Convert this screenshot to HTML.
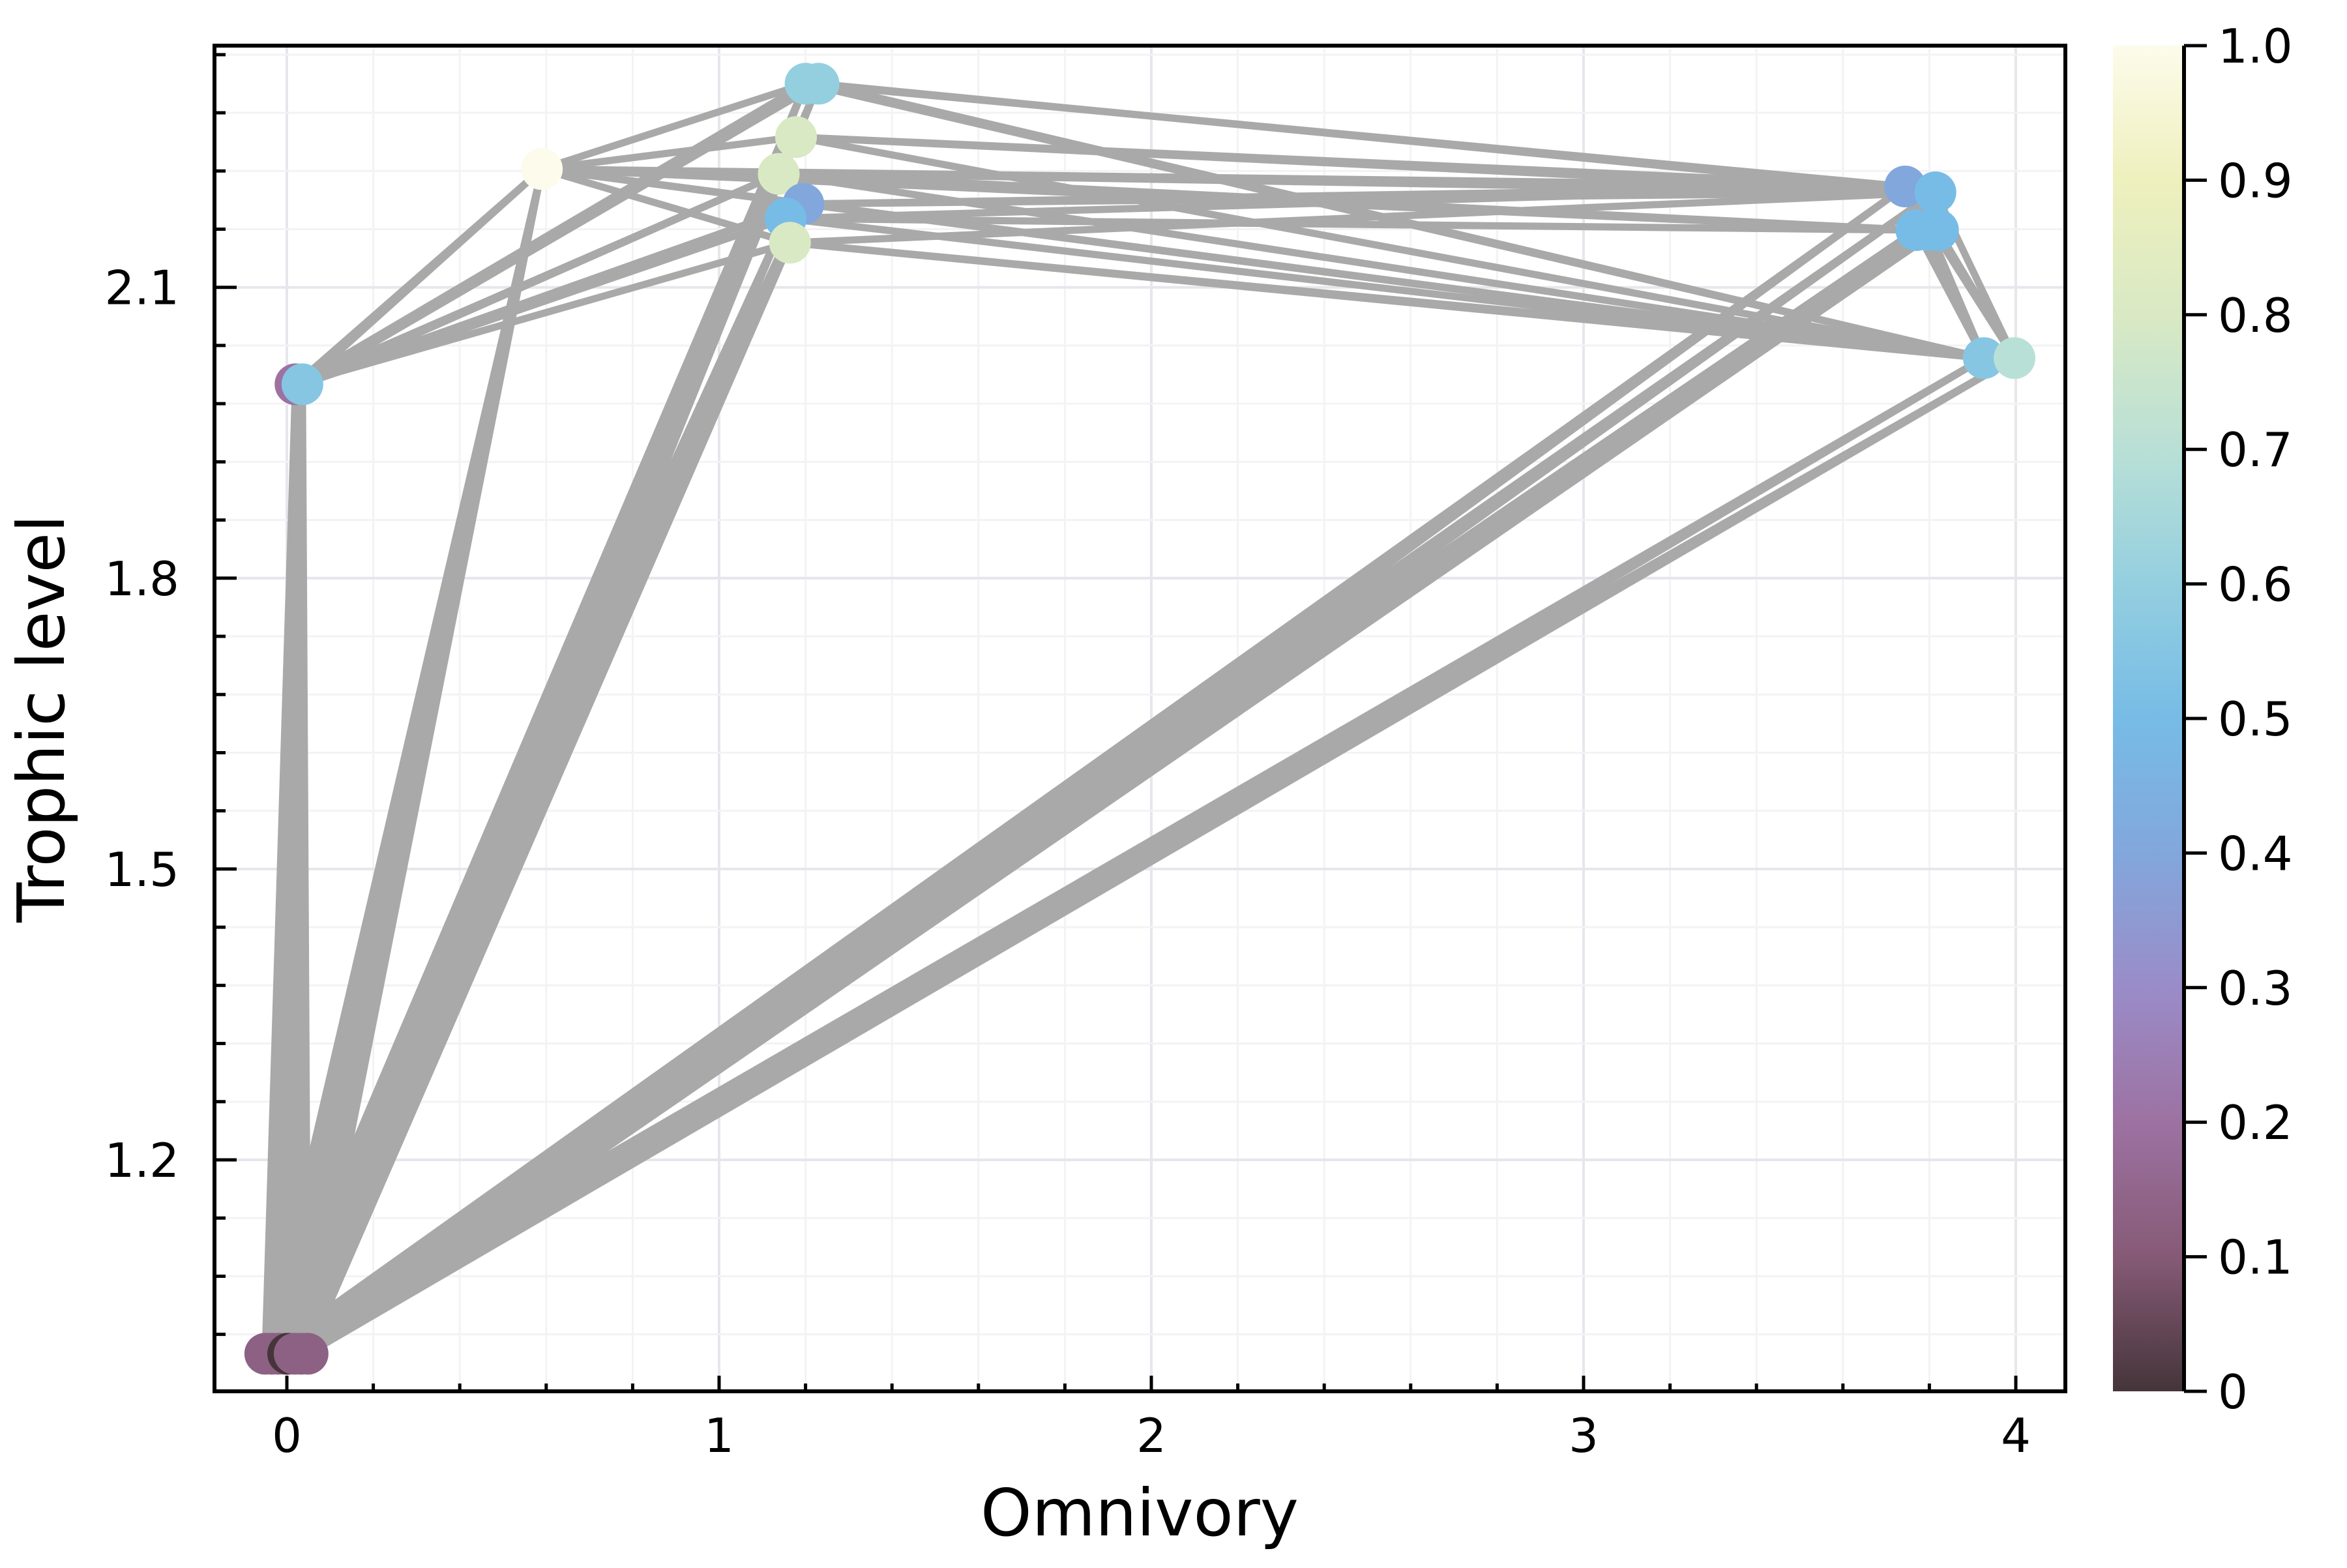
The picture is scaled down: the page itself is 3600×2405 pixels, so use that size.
<!DOCTYPE html>
<html><head><meta charset="utf-8"><style>
html,body{margin:0;padding:0;background:#fff;}
svg text{font-family:"DejaVu Sans","Liberation Sans",sans-serif;fill:#000;}
</style></head><body>
<svg id="chart" xmlns="http://www.w3.org/2000/svg" width="3600" height="2400" viewBox="0 0 3600 2400">
<rect width="3600" height="2400" fill="#fff"/>
<defs>
<linearGradient id="cbgrad" x1="0" y1="1" x2="0" y2="0"></linearGradient>
<clipPath id="plotclip"><rect x="329" y="70" width="2839" height="2064"/></clipPath>
</defs>
<g id="grid"></g>
<g id="edges" clip-path="url(#plotclip)"></g>
<g id="nodes"></g>
<g id="axes"></g>
<g id="colorbar"></g>
<text x="1748" y="2355" font-size="100" text-anchor="middle">Omnivory</text>
<text x="0" y="0" font-size="100" text-anchor="middle" transform="translate(98,1102) rotate(-90)">Trophic level</text>
</svg>
<script>
// ---- data ----
const nodeX = [-0.05,-0.035,-0.02,-0.005,0.003,0.018,0.033,0.048, 0.02,0.036, 0.59, 1.20,1.23, 1.178,1.138,1.195,1.154,1.164, 3.744,3.814,3.77,3.80,3.82, 3.926,3.997];
const nodeY = [1.0,1.0,1.0,1.0,1.0,1.0,1.0,1.0, 2.0,2.0, 2.222, 2.31,2.31, 2.255,2.217,2.186,2.171,2.146, 2.204,2.198,2.159,2.159,2.159, 2.027,2.027];
const nodeC = [0.13,0.13,0.13,0.13,0.0,0.13,0.13,0.13, 0.2,0.55, 1.0, 0.6,0.6, 0.8,0.8,0.4,0.5,0.8, 0.4,0.5,0.5,0.5,0.5, 0.55,0.7];
const bottom = [0,1,2,3,4,5,6,7];
const edgeFrom = [];
const edgeTo = [];
const bottomTargets = [8,9,10,11,12,13,14,15,16,17,18,19,20,21,22,23,24];
const extraFrom = [8,8,8,8,8,9,9,9,9, 10,10,10,10,10,10,10,10,10, 11,11,12,12,13,13,13,14,14,14,15,15,15,16,16,16,17,17,17, 18,18,20,21,22,19];
const extraTo   = [10,11,14,15,17,10,12,14,16, 11,13,14,15,17,18,19,20,23, 18,23,19,23,18,19,23,18,20,23,19,23,18,20,23,18,19,23,24, 23,24,23,23,24,24];
const xTicks = [0,1,2,3,4];
const xTickLabels = ["0","1","2","3","4"];
const yTicks = [1.2,1.5,1.8,2.1];
const yTickLabels = ["1.2","1.5","1.8","2.1"];
const cbTicks = [0,0.1,0.2,0.3,0.4,0.5,0.6,0.7,0.8,0.9,1.0];
const cbTickLabels = ["0","0.1","0.2","0.3","0.4","0.5","0.6","0.7","0.8","0.9","1.0"];
for (const b of bottom) for (const t of bottomTargets) { edgeFrom.push(b); edgeTo.push(t); }
for (let i=0;i<extraFrom.length;i++){ edgeFrom.push(extraFrom[i]); edgeTo.push(extraTo[i]); }

// ---- scales ----
const L=329,R=3168,T=70,B=2134;
const sx = v => 440 + 663*v;
const sy = v => 440.7 + (2.1 - v)*1487;
const cbY = v => 2134 - v*2064;
const NS="http://www.w3.org/2000/svg";
function mk(tag, attrs, parent){ const e=document.createElementNS(NS,tag); for(const k in attrs) e.setAttribute(k,attrs[k]); parent.appendChild(e); return e; }

const cmStops=[0,0.1,0.2,0.3,0.4,0.5,0.6,0.7,0.8,0.9,1.0];
const cmCols=[[69,53,58],[134,90,118],[157,114,162],[154,140,200],[130,167,220],[119,188,230],[148,207,224],[185,224,214],[217,233,196],[238,240,189],[253,251,235]];
function cmap(v){ for(let i=0;i<cmStops.length-1;i++){ if(v<=cmStops[i+1]){ const t=(v-cmStops[i])/(cmStops[i+1]-cmStops[i]); const a=cmCols[i],b=cmCols[i+1]; return `rgb(${Math.round(a[0]+(b[0]-a[0])*t)},${Math.round(a[1]+(b[1]-a[1])*t)},${Math.round(a[2]+(b[2]-a[2])*t)})`; } } const c=cmCols[cmCols.length-1]; return `rgb(${c[0]},${c[1]},${c[2]})`; }

const grid=document.getElementById('grid');
for(let k=0;k<=20;k++){ const v=k*0.2; const x=sx(v); if(x<L||x>R) continue; const major=k%5===0;
  const g=mk('line',{x1:x,y1:T,x2:x,y2:B,stroke:major?'#e6e6ec':'#f3f3f5','stroke-width':major?4:3},grid);
  
   }
for(let k=-5;k<=19;k++){ const v=2.1-k*0.06; const y=sy(v); if(y<T||y>B) continue; const major=(k%5===0);
  const g=mk('line',{x1:L,y1:y,x2:R,y2:y,stroke:major?'#e6e6ec':'#f3f3f5','stroke-width':major?4:3},grid);
  
   }

const eg=document.getElementById('edges');
for(let i=0;i<edgeFrom.length;i++){ const a=edgeFrom[i],b=edgeTo[i];
  const e=mk('line',{x1:sx(nodeX[a]),y1:sy(nodeY[a]),x2:sx(nodeX[b]),y2:sy(nodeY[b]),stroke:'#a9a9a9','stroke-width':11},eg);
  
   }

const ng=document.getElementById('nodes');
for(let i=0;i<nodeX.length;i++){
  const c=mk('ellipse',{cx:sx(nodeX[i]),cy:sy(nodeY[i]),rx:32,ry:32,fill:cmap(nodeC[i])},ng);
  
   }

const ax=document.getElementById('axes');
const fr=mk('rect',{x:L,y:T,width:R-L,height:B-T,fill:'none',stroke:'#000','stroke-width':6},ax);


for(let k=0;k<=20;k++){ const v=k*0.2; const x=sx(v); if(x>R) continue; const major=k%5===0;
  const t=mk('line',{x1:x,y1:B,x2:x,y2:B-(major?24:12),stroke:'#000','stroke-width':5},ax);
  
   }
xTicks.forEach((v,i)=>{ const t=mk('text',{x:sx(v),y:2227,'font-size':72,'text-anchor':'middle'},ax); t.textContent=xTickLabels[i];
  
   });
for(let k=-5;k<=19;k++){ const v=2.1-k*0.06; const y=sy(v); if(y<T||y>B) continue; const major=k%5===0;
  const t=mk('line',{x1:L,y1:y,x2:L+(major?34:17),y2:y,stroke:'#000','stroke-width':5},ax);
  
   }
yTicks.forEach((v,i)=>{ const t=mk('text',{x:275,y:sy(v)+26,'font-size':72,'text-anchor':'end'},ax); t.textContent=yTickLabels[i];
  
   });

const grad=document.getElementById('cbgrad');
cmStops.forEach((s,i)=>{ mk('stop',{offset:s,'stop-color':`rgb(${cmCols[i].join(',')})`},grad); });
const cb=document.getElementById('colorbar');
const cr=mk('rect',{x:3241,y:cbY(1),width:106,height:cbY(0)-cbY(1),fill:'url(#cbgrad)'},cb);


const cl=mk('line',{x1:3350,y1:cbY(1),x2:3350,y2:cbY(0),stroke:'#000','stroke-width':6},cb);


cbTicks.forEach((v,i)=>{ const y=cbY(v);
  const t=mk('line',{x1:3350,y1:y,x2:3385,y2:y,stroke:'#000','stroke-width':5},cb);
  
  
  const tx=mk('text',{x:3402,y:y+26,'font-size':72},cb); tx.textContent=cbTickLabels[i];
  
   });
</script>
</body></html>
